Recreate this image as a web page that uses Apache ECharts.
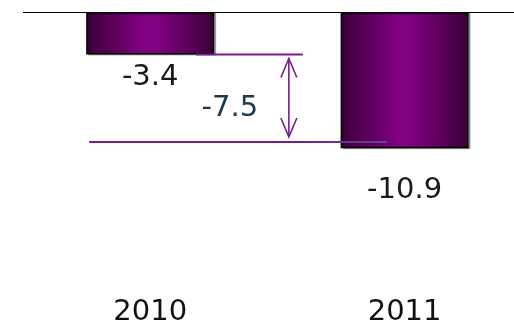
<!DOCTYPE html>
<html>
<head>
<meta charset="utf-8">
<script src="https://cdn.jsdelivr.net/npm/echarts@6/dist/echarts.min.js"></script>
<style>
html,body{margin:0;padding:0;background:#fff;}
#main{width:514px;height:327px;}
</style>
</head>
<body>
<div id="main"></div>
<script>
const categories = ['2010', '2011'];
const values = [-3.4, -10.9];
const guideLevels = [-3.4, -10.4];
const diffLabel = (values[1] - values[0]).toFixed(1);

const FONT = '"DejaVu Sans", Verdana, sans-serif';
const PURPLE = '#7b1c8e';

const barGradient = new echarts.graphic.LinearGradient(0, 0, 1, 0, [
  {offset: 0, color: '#3a0038'},
  {offset: 0.45, color: '#820082'},
  {offset: 0.55, color: '#820082'},
  {offset: 1, color: '#3a0038'}
]);

const chart = echarts.init(document.getElementById('main'), null, {renderer: 'canvas'});

const option = {
  animation: false,
  backgroundColor: '#fff',
  grid: {left: 23, right: 0, top: 12, height: 256},
  xAxis: {
    type: 'value',
    min: -0.5,
    max: 1.43,
    axisLine: {show: false},
    axisTick: {show: false},
    splitLine: {show: false},
    axisLabel: {
      show: true, margin: 36, fontSize: 29, fontFamily: FONT, color: '#111',
      customValues: categories.map((c, i) => i),
      formatter: v => categories[Math.round(v)]
    }
  },
  yAxis: {
    type: 'value', min: -20, max: 0, show: false
  },
  series: [
    {
      type: 'bar',
      barWidth: 128,
      data: values.map((v, i) => ({value: [i, v], label: {distance: i === 0 ? 8 : 28}})),
      itemStyle: {
        color: barGradient,
        borderColor: '#000',
        borderWidth: 1.5,
        shadowColor: 'rgba(0,0,0,0.3)',
        shadowOffsetX: 2,
        shadowOffsetY: 1,
        shadowBlur: 0
      },
      label: {
        show: true,
        position: 'bottom',
        fontSize: 29,
        fontFamily: FONT,
        color: '#1a1a1a',
        formatter: p => String(p.value[1])
      },
      markLine: {
        silent: true,
        symbol: 'none',
        label: {show: false},
        lineStyle: {color: '#000', width: 1, type: 'solid'},
        data: [{yAxis: 0}]
      },
      z: 2
    },
    {
      type: 'custom',
      data: [[0, 0]],
      z: 3,
      renderItem: function (params, api) {
        const a1 = api.coord([0.18, guideLevels[0]]);
        const b1 = api.coord([0.60, guideLevels[0]]);
        const a2 = api.coord([-0.24, guideLevels[1]]);
        const b2 = api.coord([0.93, guideLevels[1]]);
        const ax = api.coord([0.545, 0])[0];
        const top = a1[1] + 4;
        const bot = a2[1] - 5;
        const ls = {stroke: PURPLE, lineWidth: 2, fill: null};
        const hs = {stroke: PURPLE, lineWidth: 1.6, fill: null};
        return {
          type: 'group',
          children: [
            {type: 'line', shape: {x1: a1[0], y1: a1[1], x2: b1[0], y2: b1[1]}, style: ls},
            {type: 'line', shape: {x1: a2[0], y1: a2[1], x2: b2[0], y2: b2[1]},
              style: {stroke: new echarts.graphic.LinearGradient(0, 0, 1, 0, [
                {offset: 0, color: PURPLE}, {offset: 0.7, color: PURPLE}, {offset: 1, color: '#5a4a8a'}
              ]), lineWidth: 2, fill: null}},
            {type: 'line', shape: {x1: ax, y1: top, x2: ax, y2: bot}, style: hs},
            {type: 'polyline', shape: {points: [[ax - 8, top + 19], [ax, top], [ax + 8, top + 19]]}, style: hs},
            {type: 'polyline', shape: {points: [[ax - 8, bot - 19], [ax, bot], [ax + 8, bot - 19]]}, style: hs},
            {type: 'text', style: {
              text: diffLabel, x: ax - 59, y: (a1[1] + a2[1]) / 2 + 10,
              fill: '#1c3a4e', font: '29px ' + FONT,
              align: 'center', verticalAlign: 'middle',
              textAlign: 'center', textVerticalAlign: 'middle'
            }}
          ]
        };
      }
    }
  ]
};

chart.setOption(option);
</script>
</body>
</html>
